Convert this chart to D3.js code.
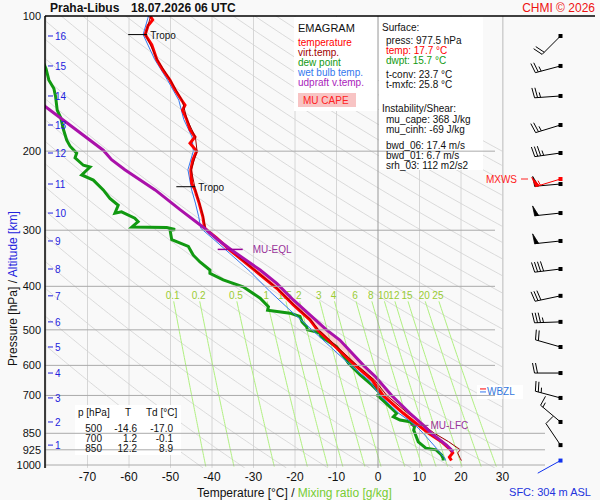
<!DOCTYPE html>
<html>
<head>
<meta charset="utf-8" />
<script src="https://d3js.org/d3.v7.min.js"></script>
<title>Emagram</title>
<style>
    body { margin: 0; background: #fff; }
    svg { font-family: "Liberation Sans", Arial, sans-serif; display: block; }
</style>
</head>
<body>
<svg id="chart" width="600" height="500"></svg>
<script>
// sounding data [pressure hPa, value]
var tempProfile = [[100,-54.9],[102,-54.3],[105,-55.4],[110,-56.1],[116,-54.5],[125,-53.3],[132,-51.8],[139,-50.1],[146,-48.9],[154,-47.3],[158,-46.5],[162,-47.1],[170,-46.1],[179,-45.3],[186,-44.1],[192,-45.3],[200,-43.7],[209,-44.6],[220,-45.1],[236,-44.9],[244,-44.1],[261,-43.1],[280,-42.2],[292,-41.9],[297,-41.7],[304,-40.5],[312,-38.9],[332,-35.7],[377,-28.4],[404,-24.4],[440,-20.4],[475,-16.4],[500,-14.6],[600,-5.5],[647,-1.4],[700,1.2],[767,6.1],[850,12.2],[887,15.3],[925,17.5],[940,18.0],[960,17.2],[977.5,17.7]];
var virtProfile = [[100,-54.8],[110,-56.0],[125,-53.2],[139,-50.0],[154,-47.2],[170,-46.0],[186,-44.0],[200,-43.6],[220,-45.0],[244,-44.0],[261,-43.0],[280,-42.1],[297,-41.6],[312,-38.8],[332,-35.6],[377,-28.3],[404,-24.3],[440,-20.2],[475,-16.2],[500,-14.3],[600,-5.0],[647,-0.8],[700,2.1],[767,7.2],[850,13.6],[887,17.0],[925,19.8],[940,19.2],[966,19.8],[977.5,20.1]];
var dewProfile = [[125,-81.0],[131,-80.0],[139,-79.3],[145,-78.1],[151,-77.7],[162,-77.3],[169,-76.4],[179,-75.8],[189,-75.0],[195,-74.2],[202,-72.6],[207,-73.0],[215,-71.0],[217,-69.4],[226,-71.4],[232,-68.6],[244,-66.2],[255,-64.6],[264,-62.6],[275,-63.4],[273,-61.8],[282,-58.6],[287,-57.8],[295,-59.3],[296,-50.9],[299,-48.9],[300,-50.1],[315,-49.7],[326,-45.7],[341,-44.5],[353,-42.9],[368,-40.5],[374,-40.5],[387,-37.3],[401,-32.5],[425,-28.4],[444,-26.4],[452,-26.6],[459,-21.2],[467,-18.8],[480,-18.3],[492,-17.2],[500,-17.0],[505,-15.0],[509,-14.0],[518,-13.7],[545,-10.0],[584,-7.6],[594,-7.1],[630,-4.3],[663,-1.5],[692,0.5],[700,-0.1],[742,2.9],[767,4.5],[781,3.7],[794,5.3],[801,7.7],[822,8.8],[836,8.6],[850,8.9],[888,9.7],[918,11.6],[925,14.0],[950,15.3],[966,15.7],[977.5,15.7]];
var wetBulbProfile = [[100,-55.3],[110,-56.6],[125,-53.8],[139,-50.7],[154,-48.0],[170,-46.8],[186,-44.8],[200,-44.5],[220,-45.8],[244,-44.9],[261,-44.0],[280,-43.2],[297,-42.7],[312,-40.0],[338,-35.7],[371,-30.8],[411,-26.0],[452,-21.2],[488,-17.2],[500,-15.9],[600,-6.6],[647,-2.2],[700,0.5],[767,5.0],[805,8.2],[828,9.7],[858,11.3],[918,14.1],[966,16.1],[977.5,16.3]];
var parcelProfile = [[150,-82.5],[159,-80.2],[199,-66.2],[209,-64.2],[220,-61.0],[244,-53.7],[270,-47.7],[295,-42.2],[315,-38.6],[332,-35.3],[368,-28.4],[394,-24.4],[429,-20.4],[463,-16.4],[500,-12.4],[527,-9.2],[600,-3.5],[636,-0.6],[700,3.3],[767,7.7],[815,10.9],[850,12.9],[903,16.5],[934,18.1]];

// levels
var pressureTicks = [100, 200, 300, 400, 500, 600, 700, 850, 925, 1000];
var tempTicks = [-70, -60, -50, -40, -30, -20, -10, 0, 10, 20, 30];
var mixRatios = [0.1, 0.2, 0.5, 1, 1.5, 2, 3, 4, 6, 8, 10, 12, 15, 20, 25];
var thetas = d3.range(230, 481, 10);
var altKm = [16, 15, 14, 13, 12, 11, 10, 9, 8, 7, 6, 5, 4, 3, 2, 1];
var altP = [110.8, 129.2, 150.7, 174.9, 201.9, 236.7, 274.7, 317, 366, 420, 480, 546, 624, 709, 802, 903];

// wind at each km level (deg, kt)
var windDir = [225, 255, 266, 253, 262, 265, 264, 264, 263, 258, 268, 286, 270, 285, 310, 326];
var windSpd = [20, 25, 25, 25, 35, 50, 50, 50, 40, 30, 35, 20, 20, 25, 15, 10];
var mxws = {p: 230.7, dir: 253, spd: 55};
var sfcWind = {p: 977.5, dir: 241, spd: 0};

// levels of markers
var tropoP = [110, 240];
var eqlP = 331, lfcP = 816, wbzlP = 684;

var tableRows = [["500", "-14.6", "-17.0"], ["700", "1.2", "-0.1"], ["850", "12.2", "8.9"]];
var legendItems = [["temperature", "#ff0000"], ["virt.temp.", "#a00000"], ["dew point", "#119911"], ["wet bulb temp.", "#3377ee"], ["udpraft v.temp.", "#aa22bb"]];

var svg = d3.select('#chart');
var x = d3.scaleLinear().domain([-80, 30]).range([46, 502.5]);
var y = d3.scaleLog().domain([100, 1000]).range([16, 465]);
var pBottom = 1015;

svg.append('rect').attr('width', 600).attr('height', 500).attr('fill', '#f9f9f9');

svg.append('clipPath').attr('id', 'plotclip')
    .append('rect').attr('x', 45).attr('y', 16).attr('width', 458).attr('height', y(pBottom) - 16);

var plot = svg.append('g').attr('clip-path', 'url(#plotclip)');

var line = d3.line().x(function (d) { return x(d[1]); }).y(function (d) { return y(d[0]); });

// isotherms
tempTicks.concat([-80]).forEach(function (t) {
    if (t == 0) return;
    plot.append('line')
        .attr('x1', x(t)).attr('x2', x(t))
        .attr('y1', 16).attr('y2', y(pBottom))
        .style('stroke', '#d6d6d6').style('stroke-width', 1);
});

// dry adiabats
var pSteps = d3.range(100, pBottom + 1, 5);
thetas.forEach(function (th) {
    var pts = pSteps.map(function (p) { return [p, th * Math.pow(p / 1000, 0.2857) - 273.15]; });
    plot.append('path').attr('d', line(pts))
        .attr('fill', 'none').style('stroke', '#d2d2d2').style('stroke-width', 0.8);
});

// mixing ratio lines
function tdFromW(w, p) {
    var e = w * p / (622 + w);
    var l = Math.log(e / 6.112);
    return 243.5 * l / (17.67 - l);
}
var pMix = d3.range(432, pBottom + 1, 8);
mixRatios.forEach(function (w) {
    var pts = pMix.map(function (p) { return [p, tdFromW(w, p)]; });
    plot.append('path').attr('d', line(pts))
        .attr('fill', 'none').style('stroke', '#b0f080').style('stroke-width', 1);
    plot.append('text')
        .attr('x', x(tdFromW(w, 432)) - 1).attr('y', 299)
        .attr('text-anchor', 'middle')
        .style('font-size', '10px').style('fill', '#99cc33')
        .text(w);
});

// white boxes
var boxes = [[294, 17, 84, 94], [379, 17, 104, 153], [75, 405, 106, 50], [477, 385, 46, 14]];
boxes.forEach(function (b) {
    svg.append('rect').attr('x', b[0]).attr('y', b[1]).attr('width', b[2]).attr('height', b[3]).attr('fill', '#ffffff');
});

// isobars
pressureTicks.forEach(function (p) {
    if (p == 100) return;
    svg.append('line')
        .attr('x1', 45).attr('x2', p >= 850 ? 545 : 495)
        .attr('y1', y(p)).attr('y2', y(p))
        .style('stroke', '#aaaaaa').style('stroke-width', 1);
});
svg.append('line').attr('x1', x(0)).attr('x2', x(0)).attr('y1', 16).attr('y2', y(pBottom))
    .style('stroke', '#999999').style('stroke-width', 1);
svg.append('line').attr('x1', 503).attr('x2', 503).attr('y1', 16).attr('y2', y(pBottom))
    .style('stroke', '#cccccc').style('stroke-width', 1);

// CAPE area between parcel and environment
function interp(prof, p) {
    for (var i = 0; i < prof.length - 1; i++) {
        if (p >= prof[i][0] && p <= prof[i + 1][0]) {
            var f = Math.log(p / prof[i][0]) / Math.log(prof[i + 1][0] / prof[i][0]);
            return prof[i][1] + f * (prof[i + 1][1] - prof[i][1]);
        }
    }
    return prof[prof.length - 1][1];
}
var capePts = [[lfcP, interp(parcelProfile, lfcP)]];
parcelProfile.slice().reverse().forEach(function (d) { if (d[0] < lfcP && d[0] > eqlP) capePts.push(d); });
capePts.push([eqlP, interp(parcelProfile, eqlP)]);
capePts.push([eqlP, interp(tempProfile, eqlP)]);
tempProfile.forEach(function (d) { if (d[0] > eqlP && d[0] < lfcP) capePts.push(d); });
capePts.push([lfcP, interp(tempProfile, lfcP)]);
plot.append('path').attr('d', line(capePts) + 'Z')
    .attr('fill', '#ff7070').attr('fill-opacity', 0.3).style('stroke', 'none');

// profiles
plot.append('path').attr('d', line(dewProfile)).attr('fill', 'none')
    .style('stroke', '#119911').style('stroke-width', 3);
plot.append('path').attr('d', line(wetBulbProfile)).attr('fill', 'none')
    .style('stroke', '#3377ee').style('stroke-width', 1);
plot.append('path').attr('d', line(tempProfile)).attr('fill', 'none')
    .style('stroke', '#ff0000').style('stroke-width', 3);
plot.append('path').attr('d', line(virtProfile)).attr('fill', 'none')
    .style('stroke', '#a00000').style('stroke-width', 1);
plot.append('path').attr('d', line(parcelProfile)).attr('fill', 'none')
    .style('stroke', '#aa11aa').style('stroke-width', 3);

// tropopause markers
tropoP.forEach(function (p) {
    var tx = x(interp(tempProfile, p));
    svg.append('line').attr('x1', tx - 17).attr('x2', tx + 2).attr('y1', y(p)).attr('y2', y(p))
        .style('stroke', '#000').style('stroke-width', 1);
    svg.append('text').attr('x', tx + 5).attr('y', y(p) + 4)
        .style('font-size', '10px').style('fill', '#111').text('Tropo');
});

// MU-EQL and MU-LFC
var ex = x(interp(parcelProfile, eqlP));
svg.append('line').attr('x1', ex - 13).attr('x2', ex + 12).attr('y1', y(eqlP)).attr('y2', y(eqlP))
    .style('stroke', '#990099').style('stroke-width', 1.5);
svg.append('text').attr('x', ex + 22).attr('y', y(eqlP) + 4)
    .style('font-size', '10px').style('fill', '#993399').text('MU-EQL');
var lx = x(interp(parcelProfile, lfcP));
svg.append('line').attr('x1', lx - 13).attr('x2', lx + 5).attr('y1', y(lfcP)).attr('y2', y(lfcP))
    .style('stroke', '#884488').style('stroke-width', 1);
svg.append('text').attr('x', lx + 7).attr('y', y(lfcP) + 4)
    .style('font-size', '10px').style('fill', '#993399').text('MU-LFC');

// WBZL
svg.append('line').attr('x1', 480).attr('x2', 486).attr('y1', y(wbzlP) - 2).attr('y2', y(wbzlP) - 2)
    .style('stroke', '#ff0000').style('stroke-width', 1);
svg.append('line').attr('x1', 480).attr('x2', 486).attr('y1', y(wbzlP) + 1).attr('y2', y(wbzlP) + 1)
    .style('stroke', '#3377ee').style('stroke-width', 1);
svg.append('text').attr('x', 487).attr('y', y(wbzlP) + 4)
    .style('font-size', '10px').style('fill', '#3377dd').text('WBZL');

// MXWS
svg.append('text').attr('x', 517).attr('y', y(mxws.p) + 4).attr('text-anchor', 'end')
    .style('font-size', '10px').style('fill', '#ff2222').text('MXWS');
svg.append('line').attr('x1', 521).attr('x2', 528).attr('y1', y(mxws.p)).attr('y2', y(mxws.p))
    .style('stroke', '#ff2222').style('stroke-width', 1);

// axes lines
svg.append('line').attr('x1', 45).attr('x2', 45).attr('y1', 16).attr('y2', y(pBottom))
    .style('stroke', '#000').style('stroke-width', 1.5);
svg.append('line').attr('x1', 45).attr('x2', 595).attr('y1', 16).attr('y2', 16)
    .style('stroke', '#000').style('stroke-width', 1.5);

// pressure labels
pressureTicks.forEach(function (p) {
    svg.append('text').attr('x', 41).attr('y', y(p) + 4).attr('text-anchor', 'end')
        .style('font-size', '11px').style('fill', '#111').text(p);
});

// altitude labels
altKm.forEach(function (k, i) {
    var yy = y(altP[i]);
    svg.append('line').attr('x1', 48).attr('x2', 53).attr('y1', yy).attr('y2', yy)
        .style('stroke', '#2222dd').style('stroke-width', 1);
    svg.append('text').attr('x', 55).attr('y', yy + 4)
        .style('font-size', '10px').style('fill', '#2222dd').text(k);
});

// temperature labels
tempTicks.forEach(function (t) {
    svg.append('text').attr('x', x(t)).attr('y', 481).attr('text-anchor', 'middle')
        .style('font-size', '12px').style('fill', '#111').text(t);
});

// wind barbs
function drawBarb(px, py, dir, spd, color) {
    var g = svg.append('g');
    var rad = dir * Math.PI / 180;
    var ux = Math.sin(rad), uy = -Math.cos(rad);
    var fx = -uy, fy = ux;
    var L = 26;
    var ex = px + ux * L, ey = py + uy * L;
    g.append('line').attr('x1', px).attr('y1', py).attr('x2', ex).attr('y2', ey)
        .style('stroke', color).style('stroke-width', 1);
    g.append('rect').attr('x', px - 2).attr('y', py - 2).attr('width', 4).attr('height', 4).attr('fill', color);
    var s = Math.round(spd / 5) * 5;
    var pos = 0;
    while (s >= 50) {
        var ax = ex - ux * pos, ay = ey - uy * pos;
        var bx = ex - ux * (pos + 4), by = ey - uy * (pos + 4);
        g.append('polygon')
            .attr('points', [[ax, ay], [ax + fx * 10 + ux * 1, ay + fy * 10 + uy * 1], [bx, by]].join(' '))
            .attr('fill', color).style('stroke', color).style('stroke-width', 0.8);
        pos += 5;
        s -= 50;
    }
    while (s >= 10) {
        var cx = ex - ux * pos, cy = ey - uy * pos;
        g.append('line').attr('x1', cx).attr('y1', cy)
            .attr('x2', cx + fx * 10 + ux * 2).attr('y2', cy + fy * 10 + uy * 2)
            .style('stroke', color).style('stroke-width', 1);
        pos += 3;
        s -= 10;
    }
    if (s >= 5) {
        if (pos == 0) pos = 3;
        var hx = ex - ux * pos, hy = ey - uy * pos;
        g.append('line').attr('x1', hx).attr('y1', hy)
            .attr('x2', hx + fx * 5 + ux * 1).attr('y2', hy + fy * 5 + uy * 1)
            .style('stroke', color).style('stroke-width', 1);
    }
}
var barbX = 560.5;
altKm.forEach(function (k, i) {
    drawBarb(barbX, y(altP[i]), windDir[i], windSpd[i], '#000');
});
drawBarb(barbX, y(mxws.p), mxws.dir, mxws.spd, '#ff0000');
drawBarb(barbX, y(sfcWind.p), sfcWind.dir, sfcWind.spd, '#1133ee');

// table
svg.append('text').attr('x', 78).attr('y', 416).style('font-size', '10px').style('fill', '#111')
    .text('p [hPa]');
svg.append('text').attr('x', 125).attr('y', 416).style('font-size', '10px').style('fill', '#111')
    .text('T');
svg.append('text').attr('x', 146).attr('y', 416).style('font-size', '10px').style('fill', '#111')
    .text('Td [°C]');
tableRows.forEach(function (r, i) {
    var yy = 432 + i * 10;
    [[102, r[0]], [137, r[1]], [173, r[2]]].forEach(function (c) {
        svg.append('text').attr('x', c[0]).attr('y', yy).attr('text-anchor', 'end')
            .style('font-size', '10px').style('fill', '#111').text(c[1]);
    });
});

// legend
svg.append('text').attr('x', 298).attr('y', 32).style('font-size', '11px').style('fill', '#111').text('EMAGRAM');
legendItems.forEach(function (d, i) {
    svg.append('text').attr('x', 298).attr('y', 46 + i * 10)
        .style('font-size', '10px').style('fill', d[1]).text(d[0]);
});
svg.append('rect').attr('x', 298).attr('y', 93).attr('width', 58).attr('height', 14).attr('fill', '#f8c4c4');
svg.append('text').attr('x', 303).attr('y', 104).style('font-size', '10px').style('fill', '#ff2222').text('MU CAPE');

// surface / instability box
var infoLines = [
    [382, 31, 'Surface:', '#111'],
    [386, 44, 'press: 977.5 hPa', '#111'],
    [386, 54, 'temp: 17.7 °C', '#ff0000'],
    [386, 64, 'dwpt: 15.7 °C', '#119911'],
    [386, 78, 't-conv: 23.7 °C', '#111'],
    [386, 88, 't-mxfc: 25.8 °C', '#111'],
    [382, 112, 'Instability/Shear:', '#111'],
    [386, 123, 'mu_cape: 368 J/kg', '#111'],
    [386, 133, 'mu_cinh: -69 J/kg', '#111'],
    [386, 149, 'bwd_06: 17.4 m/s', '#111'],
    [386, 159, 'bwd_01: 6.7 m/s', '#111'],
    [386, 169, 'srh_03: 112 m2/s2', '#111']
];
infoLines.forEach(function (d) {
    svg.append('text').attr('x', d[0]).attr('y', d[1])
        .style('font-size', '10px').style('fill', d[3]).text(d[2]);
});

// titles
svg.append('text').attr('x', 50).attr('y', 12).style('font-size', '12px').style('font-weight', 'bold')
    .style('fill', '#111').text('Praha-Libus');
svg.append('text').attr('x', 131).attr('y', 12).style('font-size', '12px').style('font-weight', 'bold')
    .style('fill', '#111').text('18.07.2026 06 UTC');
svg.append('text').attr('x', 595).attr('y', 12).attr('text-anchor', 'end').style('font-size', '12px')
    .style('fill', '#ee1111').text('CHMI © 2026');

var xt = svg.append('text').attr('x', 197).attr('y', 497).style('font-size', '12px');
xt.append('tspan').style('fill', '#111').text('Temperature [°C]  /  ');
xt.append('tspan').style('fill', '#77cc33').text('Mixing ratio [g/kg]');

var yt = svg.append('text').attr('transform', 'translate(17,366) rotate(-90)').style('font-size', '12px');
yt.append('tspan').style('fill', '#111').text('Pressure [hPa]  /  ');
yt.append('tspan').style('fill', '#2222dd').text('Altitude [km]');

svg.append('text').attr('x', 591).attr('y', 496).attr('text-anchor', 'end').style('font-size', '11px')
    .style('fill', '#2233dd').text('SFC: 304 m ASL');
</script>
</body>
</html>
